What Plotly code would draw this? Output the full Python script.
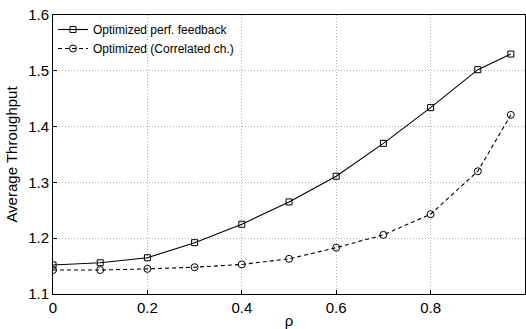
import plotly.graph_objects as go

rho = [0, 0.1, 0.2, 0.3, 0.4, 0.5, 0.6, 0.7, 0.8, 0.9, 0.97]
perf = [1.152, 1.156, 1.165, 1.192, 1.225, 1.265, 1.311, 1.370, 1.434, 1.502, 1.530]
corr = [1.143, 1.143, 1.145, 1.148, 1.153, 1.163, 1.183, 1.206, 1.243, 1.320, 1.421]
name_perf = "Optimized perf. feedback"
name_corr = "Optimized (Correlated ch.)"
xticks = [0, 0.2, 0.4, 0.6, 0.8, 1]
yticks = [1.1, 1.2, 1.3, 1.4, 1.5, 1.6]

fig = go.Figure()
fig.add_trace(go.Scatter(x=rho, y=perf, name=name_perf, mode="lines+markers",
                         line=dict(color="black", width=1.1),
                         marker=dict(symbol="square-open", size=6, color="black", line=dict(width=1))))
fig.add_trace(go.Scatter(x=rho, y=corr, name=name_corr, mode="lines+markers",
                         line=dict(color="black", width=1.1, dash="4px,3px"),
                         marker=dict(symbol="circle-open", size=7, color="black", line=dict(width=1))))

axis_common = dict(showline=True, linecolor="black", linewidth=1, mirror=True,
                   ticks="inside", ticklen=4, tickcolor="black",
                   showgrid=True, gridcolor="#b0b0b0", griddash="1px,2px", gridwidth=1,
                   zeroline=False, tickfont=dict(size=15, color="black"))
fig.update_xaxes(range=[0, 1], tickvals=xticks, ticktext=["0", "0.2", "0.4", "0.6", "0.8", "1"],
                 title=dict(text="ρ", font=dict(size=15, color="black"), standoff=2), **axis_common)
fig.update_yaxes(range=[1.1, 1.6], tickvals=yticks, ticktext=[f"{t:.1f}" for t in yticks],
                 title=dict(text="Average Throughput", font=dict(size=15, color="black"), standoff=6), **axis_common)

fig.update_layout(width=526, height=329, margin=dict(l=53, r=1, t=15, b=35),
                  plot_bgcolor="white", paper_bgcolor="white",
                  font=dict(family="Liberation Sans, Arial, sans-serif", color="black"),
                  legend=dict(x=0.0, y=1.0, xanchor="left", yanchor="top",
                              bgcolor="rgba(255,255,255,0)", borderwidth=0,
                              font=dict(size=12), itemwidth=30, tracegroupgap=0))
fig.write_html("out.html")
